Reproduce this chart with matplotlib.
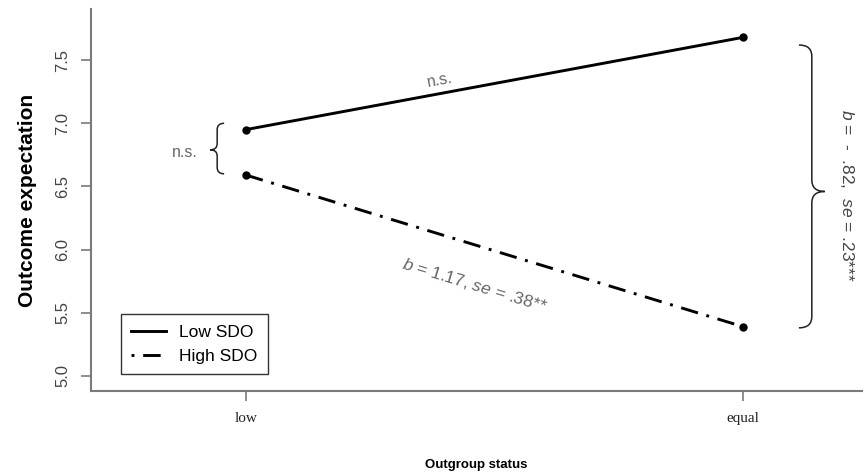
import numpy as np
import matplotlib
matplotlib.use('Agg')
import matplotlib.pyplot as plt
from matplotlib.path import Path
from matplotlib.patches import PathPatch

plt.rcParams['font.family'] = ['Liberation Sans', 'DejaVu Sans']
plt.rcParams['mathtext.fontset'] = 'custom'
plt.rcParams['mathtext.rm'] = 'Liberation Sans'
plt.rcParams['mathtext.it'] = 'Liberation Sans:italic'

# data
status = ['low', 'equal']
low_sdo = [6.95, 7.68]
high_sdo = [6.59, 5.39]
yticks = [5.0, 5.5, 6.0, 6.5, 7.0, 7.5]

gray = '#666666'
spine_gray = '#7a7a7a'


def brace(ax, x0, ytop, ybot, ymid, w, r):
    # curly brace, tip points to +x if w > 0
    verts = [(x0 - w, ytop), (x0, ytop), (x0, ytop - r),
             (x0, ymid + r),
             (x0, ymid), (x0 + w, ymid),
             (x0, ymid), (x0, ymid - r),
             (x0, ybot + r),
             (x0, ybot), (x0 - w, ybot)]
    codes = [Path.MOVETO, Path.CURVE3, Path.CURVE3,
             Path.LINETO,
             Path.CURVE3, Path.CURVE3,
             Path.CURVE3, Path.CURVE3,
             Path.LINETO,
             Path.CURVE3, Path.CURVE3]
    ax.add_patch(PathPatch(Path(verts, codes), fc='none', ec='#222222',
                           lw=1.1, clip_on=False))


fig = plt.figure(figsize=(8.64, 4.75), dpi=100)
ax = fig.add_axes([91 / 864, 84 / 475, 771 / 864, 382 / 475])

x = np.array([1, 2])
ax.plot(x, low_sdo, color='black', lw=2.1, marker='o', ms=5, label='Low SDO')
ax.plot(x, high_sdo, color='black', lw=2.1, marker='o', ms=5,
        linestyle=(0, (6, 3, 1, 3)), label='High SDO')

ax.set_xlim(0.688, 2.24)
ax.set_ylim(4.88, 7.905)

for side in ['top', 'right']:
    ax.spines[side].set_visible(False)
for side in ['left', 'bottom']:
    ax.spines[side].set_color(spine_gray)
    ax.spines[side].set_linewidth(1.5)

ax.set_yticks(yticks)
ax.set_yticklabels(['%.1f' % v for v in yticks], rotation=90, va='center',
                   color='#444444', fontsize=12)
ax.tick_params(axis='y', length=7, width=1.2, color=spine_gray, pad=8)
ax.set_xticks(x)
ax.set_xticklabels(status, family=['Liberation Serif'], fontsize=11,
                   color='#222222')
ax.tick_params(axis='x', length=7, width=1.2, color=spine_gray, pad=8)

ax.set_ylabel('Outcome expectation', fontsize=15, fontweight='bold')
ax.yaxis.set_label_coords(-0.07, 0.5)
ax.set_xlabel('Outgroup status', fontsize=9.5, fontweight='bold')
ax.xaxis.set_label_coords(0.5, -0.178)

# braces
brace(ax, 0.942, 7.0, 6.6, 6.79, -0.014, 0.05)
brace(ax, 2.139, 7.62, 5.38, 6.46, 0.026, 0.09)

# slope annotations, rotated along the lines
ang_low = ax.transData.transform_angles(
    np.array([np.degrees(np.arctan2(low_sdo[1] - low_sdo[0], 1))]),
    np.array([[1.5, 7.3]]))[0]
ang_high = ax.transData.transform_angles(
    np.array([np.degrees(np.arctan2(high_sdo[1] - high_sdo[0], 1))]),
    np.array([[1.5, 6.0]]))[0]

ax.text(1.39, 7.34, 'n.s.', color=gray, fontsize=11.5, rotation=ang_low,
        ha='center', va='center', rotation_mode='anchor')
ax.text(1.46, 5.72, r'$\it{b}$ = 1.17, $\it{se}$ = .38**', color=gray,
        fontsize=12.5, rotation=ang_high, ha='center', va='center',
        rotation_mode='anchor')
ax.text(0.877, 6.77, 'n.s.', color=gray, fontsize=11.5, ha='center',
        va='center')
ax.text(2.21, 6.43, r'$\it{b}$ =  -  .82,  $\it{se}$ = .23***',
        color='#444444', fontsize=12.5, rotation=-90, ha='center',
        va='center', clip_on=False)

leg = ax.legend(loc='lower left', bbox_to_anchor=(30 / 771, 17 / 382),
                borderaxespad=0, fancybox=False, fontsize=12.5,
                handlelength=2.0, handletextpad=0.75, borderpad=0.6,
                edgecolor='#333333', framealpha=1)
leg.get_frame().set_linewidth(1)
for h in leg.get_lines():
    h.set_marker('')
leg.get_lines()[1].set_linestyle((9, (6, 3, 1, 3)))

fig.savefig('out.png', dpi=100)
